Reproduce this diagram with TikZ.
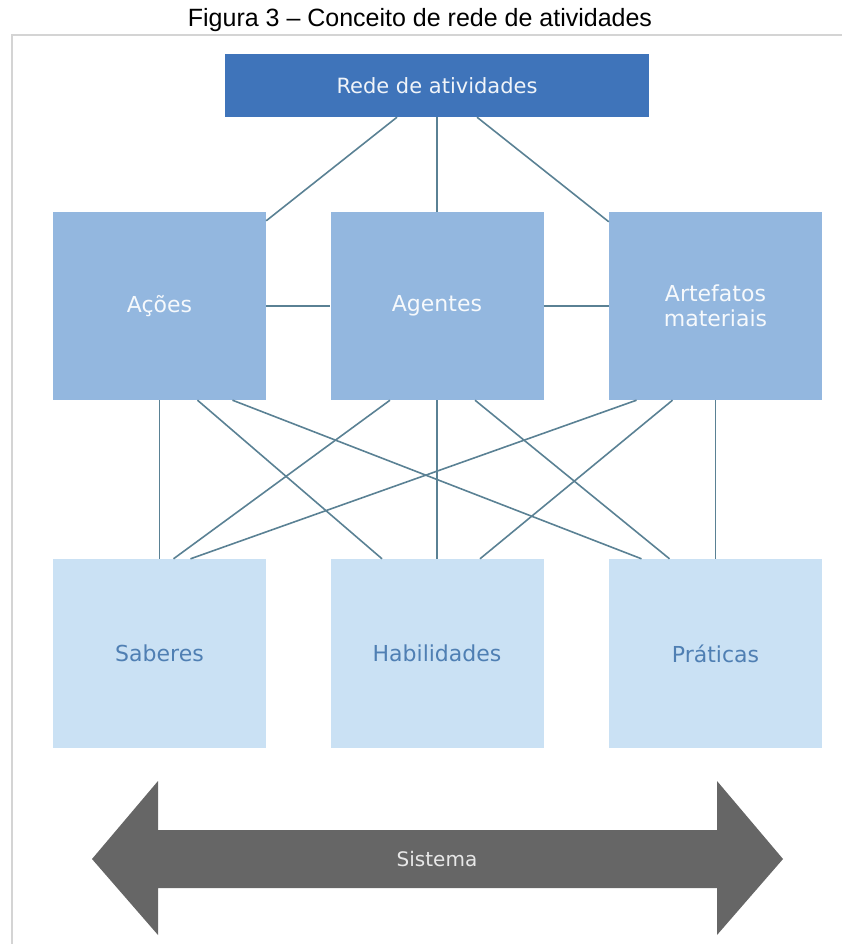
\documentclass[tikz,border=0pt]{standalone}
\usepackage{xcolor}
\usepackage{fontspec}
\setmainfont{Liberation Sans}
\newfontfamily\rotulo{DejaVu Sans}
\usepackage{tikz}
\usetikzlibrary{calc,positioning}

\definecolor{escuro}{HTML}{3F74BA}
\definecolor{medio}{HTML}{93B7DF}
\definecolor{claro}{HTML}{CAE1F4}
\definecolor{linha}{HTML}{5A8194}
\definecolor{azultexto}{HTML}{4F7FB3}
\definecolor{cinza}{HTML}{666666}
\definecolor{moldura}{HTML}{D4D4D4}

\tikzset{
  caixa/.style={rectangle, inner sep=0pt, minimum width=213pt, minimum height=188pt,
    font=\rotulo\fontsize{22}{25}\selectfont, align=center},
  meio/.style={caixa, fill=medio, text=white!92!medio},
  base/.style={caixa, fill=claro, text=azultexto},
  liga/.style={draw=linha, line width=1.6pt}
}

\begin{document}
\begin{tikzpicture}[x=1pt,y=-1pt]

    \useasboundingbox (0,0) rectangle (841,944);

    % Titulo
    \node[anchor=base, font=\fontsize{25}{30}\selectfont] (titulo) at (420,27)
      {Figura 3 -- Conceito de rede de atividades};

    % Moldura
    \draw[moldura, line width=1.5pt] (12,950) -- (12,35) -- (850,35);

    % Caixas
    \node[rectangle, inner sep=0pt, minimum width=424pt, minimum height=63pt,
      fill=escuro, text=white!92!escuro, font=\rotulo\fontsize{21}{25}\selectfont]
      (rede) at (437,85.5) {Rede de atividades};

    \node[meio] (acoes) at (159.5,306) {Ações};
    \node[meio] (agentes) at (437,306) {Agentes};
    \node[meio] (artefatos) at (715.5,306) {Artefatos\\materiais};

    \node[base, minimum height=189pt] (saberes) at (159.5,653.5) {Saberes};
    \node[base, minimum height=189pt] (habilidades) at (437,653.5) {Habilidades};
    \node[base, minimum height=189pt] (praticas) at (715.5,653.5) {Práticas};

    % Ligacoes de cima
    \draw[liga] ($(rede.south)+(-40,0)$) -- ($(acoes.north east)+(0,9)$);
    \draw[liga] (rede.south) -- (agentes.north);
    \draw[liga] ($(rede.south)+(40,0)$) -- ($(artefatos.north west)+(0,10)$);
    \draw[liga] (acoes.east) -- (agentes.west);
    \draw[liga] (agentes.east) -- (artefatos.west);

    % Ligacoes cruzadas
    \foreach \a/\da/\b/\db in {acoes/0/saberes/0, acoes/38/habilidades/-55,
        acoes/73/praticas/-74, agentes/-47/saberes/14, agentes/0/habilidades/0,
        agentes/38/praticas/-46, artefatos/-79/saberes/31,
        artefatos/-43/habilidades/43, artefatos/0/praticas/0} {
        \draw[liga] ($(\a.south)+(\da,0)$) -- ($(\b.north)+(\db,0)$);
    }

    % Seta
    \fill[cinza] (92,859) -- (158,781) -- (158,830) -- (717,830) -- (717,781)
      -- (783,859) -- (717,935) -- (717,888) -- (158,888) -- (158,935) -- cycle;
    \node[text=white!85!cinza, font=\rotulo\fontsize{20}{24}\selectfont]
      (sistema) at (437,859) {Sistema};
\end{tikzpicture}
\end{document}
